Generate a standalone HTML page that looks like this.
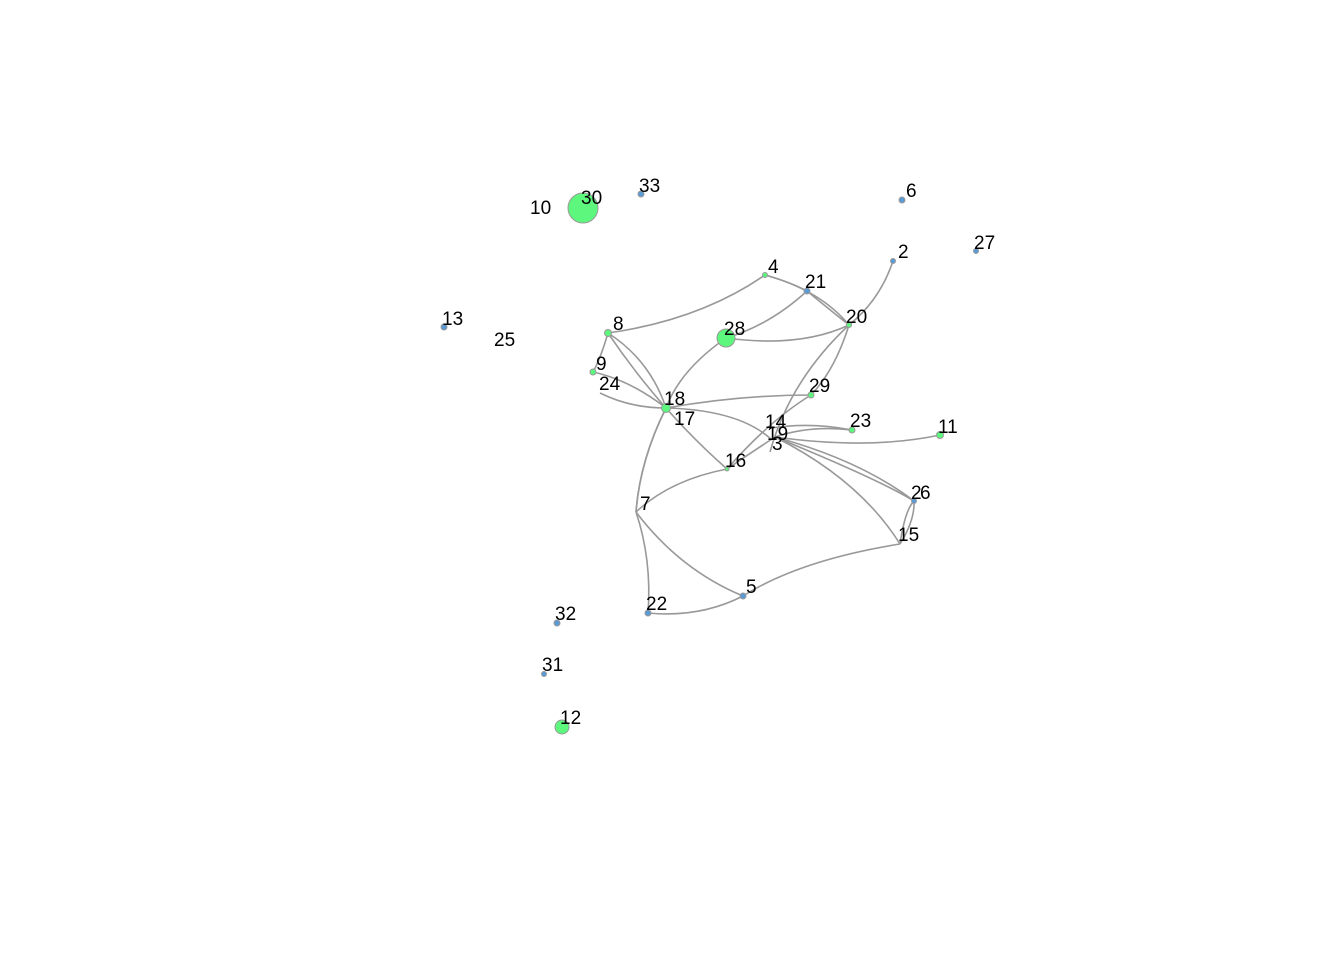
<!DOCTYPE html>
<html><head><style>body{margin:0;background:#fff}svg{display:block}text{font-family:"Liberation Sans",sans-serif;font-size:19px;fill:#000}</style></head><body>
<svg width="1344" height="960" viewBox="0 0 1344 960">
<g fill="none" stroke="#999" stroke-width="1.6">
<path d="M608,333 Q700,320 765,275"/>
<path d="M765,275 Q790,282 807,291"/>
<path d="M765,275 Q820,290 849,325"/>
<path d="M807,291 Q830,310 849,325"/>
<path d="M807,291 Q770,325 726,338"/>
<path d="M726,338 Q800,348 849,325"/>
<path d="M849,325 Q880,300 893,261"/>
<path d="M608,333 Q600,360 593,372"/>
<path d="M593,372 Q630,380 666,408"/>
<path d="M600,393 Q630,408 666,408"/>
<path d="M608,333 Q650,360 666,408"/>
<path d="M608,333 Q660,410 727,469"/>
<path d="M726,338 Q680,370 666,408 Q640,460 636,512"/>
<path d="M666,408 Q640,460 636,512"/>
<path d="M666,408 Q740,410 772,440"/>
<path d="M666,408 Q740,395 811,395"/>
<path d="M811,395 Q835,370 849,325"/>
<path d="M849,325 Q790,380 770,452"/>
<path d="M727,469 Q770,420 811,395"/>
<path d="M727,469 Q755,450 775,437"/>
<path d="M636,512 Q670,480 727,469"/>
<path d="M636,512 Q680,570 743,596"/>
<path d="M636,512 Q652,560 648,613"/>
<path d="M648,613 Q700,618 743,596"/>
<path d="M743,596 Q800,560 900,544"/>
<path d="M900,544 Q905,510 914,501"/>
<path d="M900,544 Q915,520 914,501"/>
<path d="M775,437 Q860,460 914,501"/>
<path d="M775,437 Q880,480 914,501"/>
<path d="M775,437 Q860,480 900,544"/>
<path d="M775,437 Q810,425 852,430"/>
<path d="M775,437 Q870,450 940,435"/>
<path d="M772,428 Q810,422 852,430"/>
</g>
<g stroke="#999" stroke-width="1">
<circle cx="583" cy="208" r="15" fill="#5ef77e"/>
<circle cx="726" cy="338" r="9" fill="#5ef77e"/>
<circle cx="562" cy="727" r="7" fill="#5ef77e"/>
<circle cx="666" cy="408" r="4.5" fill="#5ef77e"/>
<circle cx="608" cy="333" r="3.5" fill="#5ef77e"/>
<circle cx="593" cy="372" r="3" fill="#5ef77e"/>
<circle cx="765" cy="275" r="2.5" fill="#5ef77e"/>
<circle cx="849" cy="325" r="2.5" fill="#5ef77e"/>
<circle cx="811" cy="395" r="3" fill="#5ef77e"/>
<circle cx="852" cy="430" r="3" fill="#5ef77e"/>
<circle cx="940" cy="435" r="3.5" fill="#5ef77e"/>
<circle cx="727" cy="469" r="2" fill="#5ef77e"/>
<circle cx="641" cy="194" r="3" fill="#5b9bd5"/>
<circle cx="902" cy="200" r="3" fill="#5b9bd5"/>
<circle cx="893" cy="261" r="2.5" fill="#5b9bd5"/>
<circle cx="976" cy="251" r="2.5" fill="#5b9bd5"/>
<circle cx="807" cy="291" r="3" fill="#5b9bd5"/>
<circle cx="444" cy="327" r="3" fill="#5b9bd5"/>
<circle cx="914" cy="501" r="2.5" fill="#5b9bd5"/>
<circle cx="743" cy="596" r="3" fill="#5b9bd5"/>
<circle cx="648" cy="613" r="3" fill="#5b9bd5"/>
<circle cx="557" cy="623" r="3" fill="#5b9bd5"/>
<circle cx="544" cy="674" r="2.5" fill="#5b9bd5"/>
</g>
<text x="530" y="214">10</text><text x="581" y="204">30</text>
<text x="639" y="192">33</text><text x="906" y="197">6</text>
<text x="898" y="258">2</text><text x="974" y="249">27</text>
<text x="768" y="273">4</text><text x="805" y="288">21</text>
<text x="846" y="323">20</text><text x="724" y="335">28</text>
<text x="613" y="330">8</text><text x="596" y="370">9</text>
<text x="442" y="325">13</text><text x="494" y="346">25</text>
<text x="599" y="390">24</text><text x="664" y="405">18</text>
<text x="674" y="425">17</text><text x="809" y="392">29</text>
<text x="765" y="428">14</text><text x="767" y="440">19</text>
<text x="772" y="450">3</text><text x="850" y="427">23</text>
<text x="938" y="433">11</text><text x="725" y="467">16</text>
<text x="911" y="499">2</text><text x="920" y="499">6</text>
<text x="898" y="541">15</text><text x="640" y="510">7</text>
<text x="746" y="593">5</text><text x="646" y="610">22</text>
<text x="555" y="620">32</text><text x="542" y="671">31</text>
<text x="560" y="724">12</text>
</svg>
</body></html>
